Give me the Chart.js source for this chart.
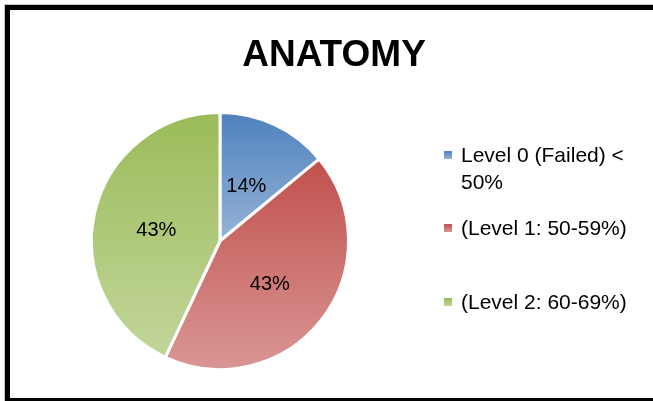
<!DOCTYPE html>
<html lang="en">
  <head>
    <meta charset="UTF-8" />
    <title>ANATOMY</title>
    <script src="https://cdn.jsdelivr.net/npm/chart.js"></script>
    <style>
      body { margin: 0; background: #fff; }
      .frame {
        position: absolute; left: 5px; top: 5px; width: 700px; height: 388px;
        border: 5px solid #000; outline: 1px solid #c8c8c8;
      }
      #chart { position: absolute; left: 0; top: 0; }
    </style>
  </head>
  <body>
    <div class="frame"></div>
    <canvas id="chart" width="653" height="401"></canvas>

    <script>
      const title = "ANATOMY";
      const labels = [
        ["Level 0 (Failed) <", "50%"],
        ["(Level 1: 50-59%)"],
        ["(Level 2: 60-69%)"]
      ];
      const values = [14, 43, 43];

      const topColors = ["#4f81bd", "#c0504d", "#9bbb59"];
      const bottomColors = ["#95b3d7", "#d99694", "#c3d69b"];
      const FONT = "'Liberation Sans', Arial, sans-serif";

      // vertical gradient spanning each slice's own height
      function sliceGradient(c) {
        const chart = c.chart, a = chart.chartArea, i = c.dataIndex;
        if (!a) return topColors[i];
        const data = c.dataset.data;
        const total = data.reduce((s, v) => s + v, 0);
        let start = -Math.PI / 2;
        for (let k = 0; k < i; k++) start += (data[k] / total) * 2 * Math.PI;
        const end = start + (data[i] / total) * 2 * Math.PI;
        const r = (Math.min(a.width, a.height) - 3) / 2;
        const cy = (a.top + a.bottom) / 2;
        const ys = [0, Math.sin(start) * r, Math.sin(end) * r];
        [Math.PI / 2, (3 * Math.PI) / 2].forEach((t) => {
          if (t > start && t < end) ys.push(Math.sin(t) * r);
        });
        const g = chart.ctx.createLinearGradient(0, cy + Math.min(...ys), 0, cy + Math.max(...ys));
        g.addColorStop(0, topColors[i]);
        g.addColorStop(1, bottomColors[i]);
        return g;
      }

      const decorations = {
        id: "decorations",
        afterDatasetsDraw(chart) {
          const ctx = chart.ctx;
          const meta = chart.getDatasetMeta(0);
          ctx.save();
          // percentage labels
          ctx.fillStyle = "#000";
          ctx.font = "20px " + FONT;
          ctx.textAlign = "center";
          ctx.textBaseline = "middle";
          meta.data.forEach((arc, i) => {
            const p = arc.tooltipPosition();
            ctx.fillText(values[i] + "%", p.x - 1, p.y + 4);
          });

          // title
          ctx.font = "bold 37px " + FONT;
          ctx.fillText(title, 334, 56);

          // legend
          ctx.font = "21px " + FONT;
          ctx.textAlign = "left";
          ctx.textBaseline = "alphabetic";
          const rowY = [162, 235, 309];
          labels.forEach((lines, i) => {
            const y = rowY[i];
            const g = ctx.createLinearGradient(0, y - 11, 0, y - 3);
            g.addColorStop(0, topColors[i]);
            g.addColorStop(1, bottomColors[i]);
            ctx.fillStyle = g;
            ctx.fillRect(444, y - 11, 8, 8);
            ctx.fillStyle = "#000";
            lines.forEach((t, j) => ctx.fillText(t, 461, y + j * 27));
          });
          ctx.restore();
        }
      };

      new Chart(document.getElementById("chart"), {
        type: "pie",
        data: {
          labels: labels,
          datasets: [
            {
              data: values,
              backgroundColor: sliceGradient,
              borderColor: "#ffffff",
              borderWidth: 3
            }
          ]
        },
        options: {
          responsive: false,
          animation: false,
          events: [],
          layout: { padding: { top: 111, bottom: 30, left: 90, right: 303 } },
          plugins: {
            legend: { display: false },
            title: { display: false },
            tooltip: { enabled: false }
          }
        },
        plugins: [decorations]
      });
    </script>
  </body>
</html>
